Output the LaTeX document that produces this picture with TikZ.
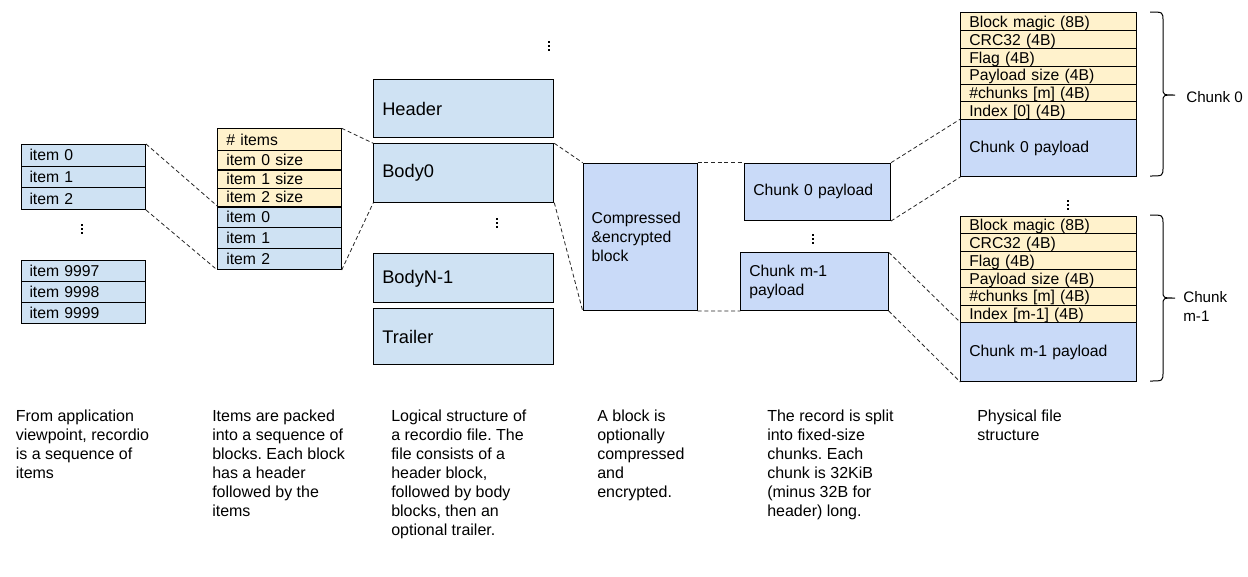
\documentclass[tikz,border=0pt]{standalone}
\usepackage{fontspec}
\setmainfont{Liberation Sans}
\frenchspacing
\definecolor{lblue}{HTML}{CFE2F3}
\definecolor{lyellow}{HTML}{FFF2CC}
\definecolor{cblue}{HTML}{C9DAF8}
\newcommand\fs{\fontsize{11.8}{14.25}\selectfont}
\newcommand\fb{\fontsize{12}{14.25}\selectfont}
\newcommand\fc{\fontsize{11.4}{14.25}\selectfont}
\newcommand\fl{\fontsize{13.7}{16}\selectfont}
\newcommand\cell[7]{%
  \pgfmathsetlengthmacro\celltw{(#5-17)*0.75pt}%
  \pgfmathsetlengthmacro\cellh{#6*0.75pt}%
  \node[#2, anchor=north west, inner xsep=6.375pt, inner ysep=0pt, text width=\celltw, minimum height=\cellh, align=left] (#1) at (#3,#4) {#7};}
\newcommand\vd[2]{\foreach \dy in {-4,0,4}{\fill (#1-1.1,#2+\dy-1.1) rectangle ++(2.2,2.2);}}
\tikzset{
  bl/.style={draw, fill=lblue, line width=0.75pt, font=\fs},
  yl/.style={draw, fill=lyellow, line width=0.75pt, font=\fs},
  hd/.style={draw, fill=lyellow, line width=0.75pt, font=\fs, text depth=0pt},
  cb/.style={draw, fill=cblue, line width=0.75pt, font=\fs},
  conn/.style={draw=black!85, dash pattern=on 3pt off 2pt, line width=0.6pt},
  btxt/.style={anchor=north west, inner sep=0pt, align=left, font=\fb},
  brc/.style={draw, line width=0.75pt},
}
\begin{document}
\frenchspacing
\begin{tikzpicture}[x=0.75pt,y=-0.75pt]
\fill[white] (0,0) rectangle (1248,576);
\useasboundingbox (0,0) rectangle (1248,576);
% column 1
\cell{a0}{bl}{20.5}{144}{124.5}{21.7}{item 0}
\cell{a1}{bl}{20.5}{165.7}{124.5}{21.6}{item 1}
\cell{a2}{bl}{20.5}{187.3}{124.5}{21.7}{item 2}
\cell{a3}{bl}{20.5}{259.5}{124.5}{21}{item 9997}
\cell{a4}{bl}{20.5}{280.5}{124.5}{21}{item 9998}
\cell{a5}{bl}{20.5}{301.5}{124.5}{21}{item 9999}
\vd{82}{229}
% column 2
\cell{b0}{yl}{217.3}{128.3}{123.4}{21.7}{\# items}
\cell{b1}{yl}{217.3}{150}{123.4}{19}{item 0 size}
\cell{b2}{yl}{217.3}{169}{123.4}{18.7}{item 1 size}
\cell{b3}{yl}{217.3}{187.7}{123.4}{18.3}{item 2 size}
\cell{b4}{bl}{217.3}{206}{123.4}{20.7}{item 0}
\cell{b5}{bl}{217.3}{226.7}{123.4}{21}{item 1}
\cell{b6}{bl}{217.3}{247.7}{123.4}{21.3}{item 2}
\draw[line width=1.4pt] (b1.south west) -- (b1.south east);
\draw[line width=1.4pt] (b3.south west) -- (b3.south east);
% column 3
\cell{c0}{bl,font=\fl}{373.3}{79.3}{180}{58}{Header}
\cell{c1}{bl,font=\fl}{373.3}{143.3}{180}{58.4}{Body0}
\cell{c2}{bl,font=\fl}{373.3}{253.3}{180}{49}{BodyN-1}
\cell{c3}{bl,font=\fl}{373.3}{308.3}{180}{56}{Trailer}
\vd{549}{46}
\vd{497}{223}
% column 4
\cell{d}{cb}{582.7}{162.7}{114}{147.3}{Compressed\\\&encrypted\\block}
% column 5
\cell{e0}{cb}{744.3}{162.7}{145.7}{57.3}{Chunk 0 payload}
\cell{e1}{cb}{740.3}{252.3}{147.4}{57.7}{Chunk m-1\\payload}
\vd{813}{239}
% column 6 upper
\cell{f0}{hd}{960.3}{12.3}{175.4}{17.8}{Block magic (8B)}
\cell{f1}{hd}{960.3}{30.1}{175.4}{17.8}{CRC32 (4B)}
\cell{f2}{hd}{960.3}{47.9}{175.4}{17.8}{Flag (4B)}
\cell{f3}{hd}{960.3}{65.7}{175.4}{17.8}{Payload size (4B)}
\cell{f4}{hd}{960.3}{83.5}{175.4}{17.8}{\#chunks [m] (4B)}
\cell{f5}{hd}{960.3}{101.3}{175.4}{17.8}{Index [0] (4B)}
\cell{f6}{cb}{960.3}{119.1}{175.4}{56.9}{Chunk 0 payload}
\vd{1067.7}{205}
% column 6 lower
\cell{g0}{hd}{960.3}{215.5}{175.4}{17.8}{Block magic (8B)}
\cell{g1}{hd}{960.3}{233.3}{175.4}{17.8}{CRC32 (4B)}
\cell{g2}{hd}{960.3}{251.1}{175.4}{17.8}{Flag (4B)}
\cell{g3}{hd}{960.3}{268.9}{175.4}{17.8}{Payload size (4B)}
\cell{g4}{hd}{960.3}{286.7}{175.4}{17.8}{\#chunks [m] (4B)}
\cell{g5}{hd}{960.3}{304.5}{175.4}{17.8}{Index [m-1] (4B)}
\cell{g6}{cb}{960.3}{322.3}{175.4}{58.7}{Chunk m-1 payload}
% braces
\draw[brc] (1150,12) .. controls (1163,12) .. (1163,21) -- (1163,88) .. controls (1163,95) .. (1175,95) .. controls (1163,95) .. (1163,102) -- (1163,167) .. controls (1163,176) .. (1150,176);
\draw[brc] (1150,215) .. controls (1163,215) .. (1163,224) -- (1163,291) .. controls (1163,298) .. (1175,298) .. controls (1163,298) .. (1163,305) -- (1163,372) .. controls (1163,381) .. (1150,381);
\node[anchor=west, inner sep=0pt, font=\fc] (l0) at (1186,97) {Chunk 0};
\node[anchor=west, inner sep=0pt, font=\fc, align=left] (l1) at (1183,306) {Chunk\\m-1};
% connectors
\draw[conn] (a0.north east) -- (b4.north west);
\draw[conn] (a2.south east) -- (b6.south west);
\draw[conn] (b0.north east) -- (c1.north west);
\draw[conn] (b6.south east) -- (c1.south west);
\draw[conn] (c1.north east) -- (d.north west);
\draw[conn] (c1.south east) -- (d.south west);
\draw[conn] (d.north east) -- (e0.north west);
\draw[conn] (d.south east) -- (e1.south west);
\draw[conn] (e0.north east) -- (f6.north west);
\draw[conn] (e0.south east) -- (f6.south west);
\draw[conn] (e1.north east) -- (g6.north west);
\draw[conn] (e1.south east) -- (g6.south west);
% captions
\node[btxt] (t1) at (15.5,410) {From application\\viewpoint, recordio\\is a sequence of\\items};
\node[btxt] (t2) at (212,410) {Items are packed\\into a sequence of\\blocks. Each block\\has a header\\followed by the\\items};
\node[btxt] (t3) at (391,410) {Logical structure of\\a recordio file. The\\file consists of a\\header block,\\followed by body\\blocks, then an\\optional trailer.};
\node[btxt] (t4) at (597,410) {A block is\\optionally\\compressed\\and\\encrypted.};
\node[btxt] (t5) at (767,410) {The record is split\\into fixed-size\\chunks. Each\\chunk is 32KiB\\(minus 32B for\\header) long.};
\node[btxt] (t6) at (977,410) {Physical file\\structure};
\end{tikzpicture}
\end{document}
